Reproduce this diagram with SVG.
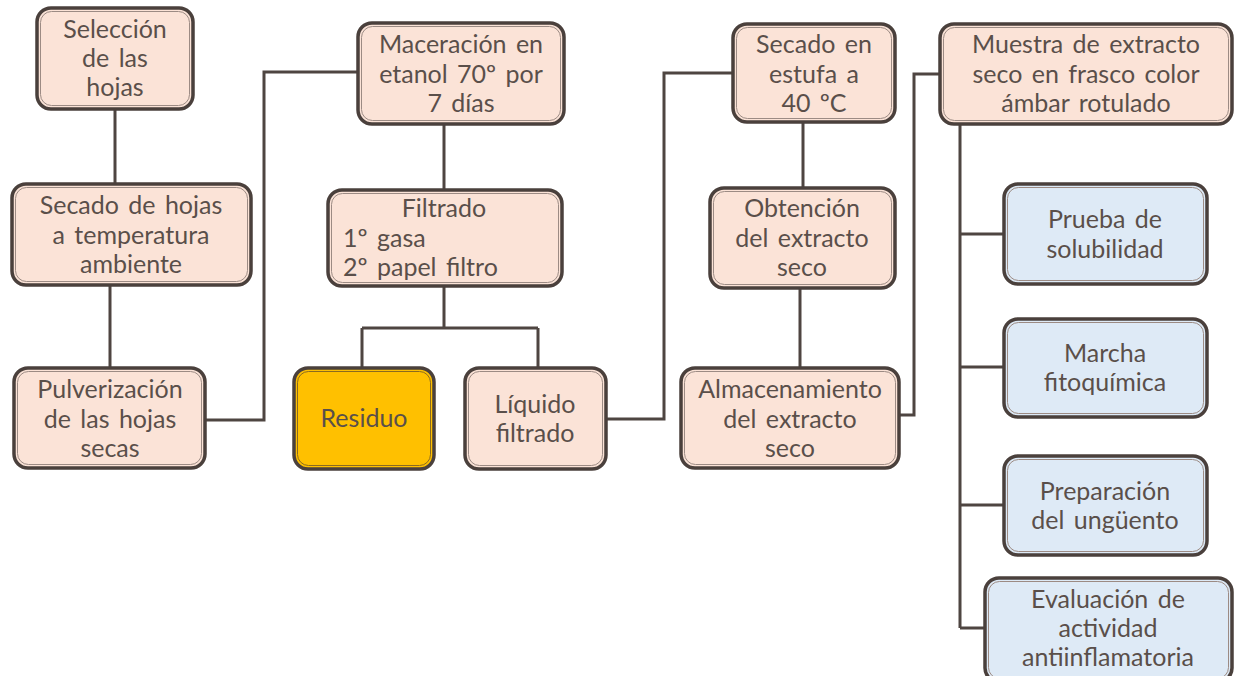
<svg xmlns="http://www.w3.org/2000/svg" width="1235" height="676" viewBox="0 0 1235 676">
<style>
.o{stroke:#4a403c;stroke-width:3.5}
.i{fill:none;stroke:#9c8b84;stroke-width:1}
.p{fill:#fbe3d7}
.b{fill:#deeaf6}
.y{fill:#ffc000}
.t{font-family:Lato,"Open Sans",sans-serif;font-size:25px;fill:#5a4f4a;text-anchor:middle;word-spacing:3px}
.l{text-anchor:start}
.c{fill:none;stroke:#4e4541;stroke-width:3}
</style>
<rect width="1235" height="676" fill="#fff"/>
<g id="connectors">
<path class="c" d="M115,108V185"/>
<path class="c" d="M110,285V368"/>
<path class="c" d="M205,420H264V72H358"/>
<path class="c" d="M444,124V190"/>
<path class="c" d="M444,286V328M362,328H538M362,328V368M538,328V370"/>
<path class="c" d="M606,419H664V73H733"/>
<path class="c" d="M803,122V188"/>
<path class="c" d="M800,288V368"/>
<path class="c" d="M899,415H914V74H940"/>
<path class="c" d="M960,124V628"/>
<path class="c" d="M960,234H1004M960,367H1004M960,505H1004M960,628H985"/>
</g>
<g id="n1"><rect class="o p" x="37" y="8" width="156" height="101" rx="14"/><rect class="i" x="40.5" y="11.5" width="149" height="94" rx="11"/>
<text class="t" x="115"><tspan x="115" y="38">Selección</tspan><tspan x="115" y="67">de las</tspan><tspan x="115" y="96">hojas</tspan></text></g>
<g id="n2"><rect class="o p" x="12" y="184" width="239" height="101" rx="14"/><rect class="i" x="15.5" y="187.5" width="232" height="94" rx="11"/>
<text class="t"><tspan x="131" y="214">Secado de hojas</tspan><tspan x="131" y="244">a temperatura</tspan><tspan x="131" y="273">ambiente</tspan></text></g>
<g id="n3"><rect class="o p" x="14" y="368" width="191" height="100" rx="14"/><rect class="i" x="17.5" y="371.5" width="184" height="93" rx="11"/>
<text class="t"><tspan x="110" y="398">Pulverización</tspan><tspan x="110" y="428">de las hojas</tspan><tspan x="110" y="457">secas</tspan></text></g>
<g id="n4"><rect class="o p" x="358" y="23" width="206" height="101" rx="14"/><rect class="i" x="361.5" y="26.5" width="199" height="94" rx="11"/>
<text class="t"><tspan x="461" y="53">Maceración en</tspan><tspan x="461" y="83">etanol 70º por</tspan><tspan x="461" y="112">7 días</tspan></text></g>
<g id="n5"><rect class="o p" x="328" y="190" width="234" height="96" rx="14"/><rect class="i" x="331.5" y="193.5" width="227" height="89" rx="11"/>
<text class="t"><tspan x="444" y="217">Filtrado</tspan></text><text class="t l"><tspan x="343" y="247">1º gasa</tspan><tspan x="343" y="276">2º papel filtro</tspan></text></g>
<g id="n6"><rect class="o y" x="294" y="368" width="140" height="101" rx="14"/><rect class="i" x="297.5" y="371.5" width="133" height="94" rx="11" style="stroke:#8a6a20"/>
<text class="t" x="364" y="427">Residuo</text></g>
<g id="n7"><rect class="o p" x="465" y="368" width="141" height="101" rx="14"/><rect class="i" x="468.5" y="371.5" width="134" height="94" rx="11"/>
<text class="t"><tspan x="535" y="413">Líquido</tspan><tspan x="535" y="442">filtrado</tspan></text></g>
<g id="n8"><rect class="o p" x="733" y="24" width="162" height="98" rx="14"/><rect class="i" x="736.5" y="27.5" width="155" height="91" rx="11"/>
<text class="t"><tspan x="814" y="53">Secado en</tspan><tspan x="814" y="83">estufa a</tspan><tspan x="814" y="112">40 ºC</tspan></text></g>
<g id="n9"><rect class="o p" x="710" y="188" width="185" height="100" rx="14"/><rect class="i" x="713.5" y="191.5" width="178" height="93" rx="11"/>
<text class="t"><tspan x="802" y="217">Obtención</tspan><tspan x="802" y="247">del extracto</tspan><tspan x="802" y="276">seco</tspan></text></g>
<g id="n10"><rect class="o p" x="681" y="368" width="218" height="100" rx="14"/><rect class="i" x="684.5" y="371.5" width="211" height="93" rx="11"/>
<text class="t"><tspan x="790" y="398">Almacenamiento</tspan><tspan x="790" y="428">del extracto</tspan><tspan x="790" y="457">seco</tspan></text></g>
<g id="n11"><rect class="o p" x="940" y="24" width="292" height="100" rx="14"/><rect class="i" x="943.5" y="27.5" width="285" height="93" rx="11"/>
<text class="t"><tspan x="1086" y="53">Muestra de extracto</tspan><tspan x="1086" y="83">seco en frasco color</tspan><tspan x="1086" y="112">ámbar rotulado</tspan></text></g>
<g id="n12"><rect class="o b" x="1004" y="184" width="203" height="100" rx="14"/><rect class="i" x="1007.5" y="187.5" width="196" height="93" rx="11"/>
<text class="t"><tspan x="1105" y="228">Prueba de</tspan><tspan x="1105" y="258">solubilidad</tspan></text></g>
<g id="n13"><rect class="o b" x="1004" y="319" width="203" height="98" rx="14"/><rect class="i" x="1007.5" y="322.5" width="196" height="91" rx="11"/>
<text class="t"><tspan x="1105" y="362">Marcha</tspan><tspan x="1105" y="391">fitoquímica</tspan></text></g>
<g id="n14"><rect class="o b" x="1004" y="456" width="203" height="99" rx="14"/><rect class="i" x="1007.5" y="459.5" width="196" height="92" rx="11"/>
<text class="t"><tspan x="1105" y="500">Preparación</tspan><tspan x="1105" y="529">del ungüento</tspan></text></g>
<g id="n15"><rect class="o b" x="985" y="578" width="247" height="104" rx="14"/><rect class="i" x="988.5" y="581.5" width="240" height="97" rx="11"/>
<text class="t"><tspan x="1108" y="608">Evaluación de</tspan><tspan x="1108" y="637">actividad</tspan><tspan x="1108" y="666">antiinflamatoria</tspan></text></g>
</svg>
